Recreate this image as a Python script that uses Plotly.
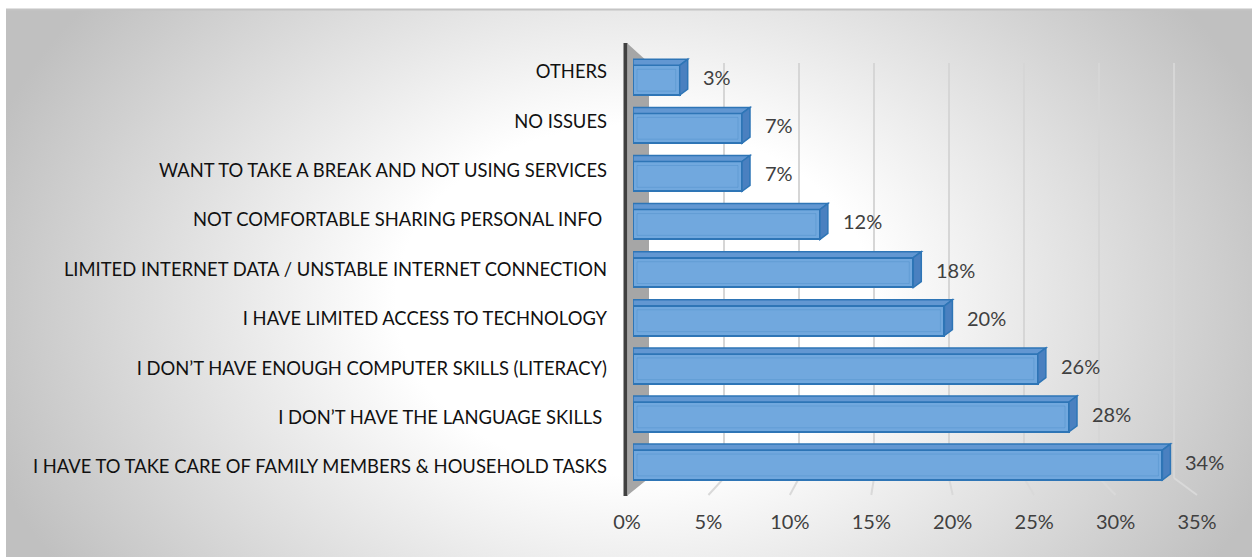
import base64
import plotly.graph_objects as go

# ---- data -----------------------------------------------------------------
categories = [
    "I HAVE TO TAKE CARE OF FAMILY MEMBERS & HOUSEHOLD TASKS",
    "I DON’T HAVE THE LANGUAGE SKILLS ",
    "I DON’T HAVE ENOUGH COMPUTER SKILLS (LITERACY)",
    "I HAVE LIMITED ACCESS TO TECHNOLOGY",
    "LIMITED INTERNET DATA / UNSTABLE INTERNET CONNECTION",
    "NOT COMFORTABLE SHARING PERSONAL INFO ",
    "WANT TO TAKE A BREAK AND NOT USING SERVICES",
    "NO ISSUES",
    "OTHERS",
]
values = [34, 28, 26, 20, 18, 12, 7, 7, 3]
x_ticks = [0, 5, 10, 15, 20, 25, 30, 35]
x_tick_labels = ["0%", "5%", "10%", "15%", "20%", "25%", "30%", "35%"]

# ---- canvas / layout geometry (pixels) ------------------------------------
W, H = 1252, 557
FONT = "Lato"
TXT = "#404040"

def px_x(p):
    return p / W

def px_y(p):
    return 1 - p / H

idx = list(range(len(categories)))

# bar (front face) axis: 0..35 -> 633..1178 px, category i centred at 465 - 48.1 i
bar_x_dom = [px_x(633), px_x(1178)]
bar_y_dom = [px_y(465 + 48.1), px_y(465 - 9 * 48.1)]
# category label axis
lab_y_dom = [px_y(467 + 49.4), px_y(467 - 9 * 49.4)]
# front floor edge (tick labels): 0..35 -> 627..1197 px
FRONT0, FRONT1 = 627, 1197
front_x_dom = [px_x(FRONT0), px_x(FRONT1)]
# back wall: 0..35 -> 649..1174 px, from y=63 to y=478
BACK0, BACK1 = 649, 1174
BACK_TOP, BACK_BOTTOM = 63, 478
FLOOR_FRONT = 495

bar_w = 0.62
px_per_unit_x = (1178 - 633) / 35
px_per_unit_y = 48.1
dx = 8 / px_per_unit_x
dy = 6 / px_per_unit_y

# ---- background gradient --------------------------------------------------
bw, bh = W - 6, H - 9
svg = f'''<svg xmlns="http://www.w3.org/2000/svg" width="{bw}" height="{bh}" viewBox="0 0 {bw} {bh}" preserveAspectRatio="none">
<defs><radialGradient id="g" gradientUnits="userSpaceOnUse" cx="628" cy="291" r="680"
gradientTransform="translate(628 291) scale(1 0.735) translate(-628 -291)">
<stop offset="0" stop-color="#ffffff"/><stop offset="0.35" stop-color="#ffffff"/>
<stop offset="1" stop-color="#c0c0c0"/></radialGradient></defs>
<rect x="0" y="0" width="{bw}" height="{bh}" fill="url(#g)"/></svg>'''
bg_src = "data:image/svg+xml;base64," + base64.b64encode(svg.encode()).decode()

fig = go.Figure()

# front faces of the bars
fig.add_trace(go.Bar(
    y=idx, x=values, orientation="h", width=bar_w,
    marker=dict(color="#71a8de", line=dict(color="#2e75b6", width=2)),
    xaxis="x", yaxis="y", hoverinfo="skip", showlegend=False,
))
# helper traces so the label axes are drawn
fig.add_trace(go.Scatter(x=[None], y=[None], xaxis="x2", yaxis="y", showlegend=False, hoverinfo="skip"))
fig.add_trace(go.Scatter(x=[None], y=[None], xaxis="x", yaxis="y2", showlegend=False, hoverinfo="skip"))

shapes = []

# back-wall gridlines and floor gridlines (drawn under everything)
for v in x_ticks[1:]:
    xb = BACK0 + v * (BACK1 - BACK0) / 35
    xf = FRONT0 + v * (FRONT1 - FRONT0) / 35
    shapes.append(dict(
        type="line", xref="paper", yref="paper", layer="below",
        x0=px_x(xb), y0=px_y(BACK_TOP), x1=px_x(xb), y1=px_y(BACK_BOTTOM),
        line=dict(color="#d6d6d6", width=2),
    ))
    shapes.append(dict(
        type="line", xref="paper", yref="paper", layer="below",
        x0=px_x(xb), y0=px_y(BACK_BOTTOM), x1=px_x(xf), y1=px_y(FLOOR_FRONT),
        line=dict(color="#d9d9d9", width=2),
    ))

# side wall on the left
shapes.append(dict(
    type="path", xref="paper", yref="paper", layer="below",
    path=(f"M {px_x(628)},{px_y(44)} L {px_x(BACK0)},{px_y(BACK_TOP)} "
          f"L {px_x(BACK0)},{px_y(BACK_BOTTOM)} L {px_x(628)},{px_y(FLOOR_FRONT)} Z"),
    fillcolor="#a6a6a6", line=dict(width=0),
))
shapes.append(dict(
    type="line", xref="paper", yref="paper", layer="below",
    x0=px_x(625.5), x1=px_x(625.5), y0=px_y(43), y1=px_y(496),
    line=dict(color="#404040", width=4),
))
# chart frame edge
shapes.append(dict(
    type="line", xref="paper", yref="paper", layer="below",
    x0=px_x(6), x1=1, y0=px_y(9.5), y1=px_y(9.5),
    line=dict(color="#c4c4c4", width=2),
))

# top and side faces plus inner bevel of each bar
for i, v in zip(idx, values):
    t = i + bar_w / 2
    b = i - bar_w / 2
    shapes.append(dict(
        type="path", xref="x", yref="y", layer="above",
        path=f"M 0,{t} L {v},{t} L {v + dx},{t + dy} L 0,{t + dy} Z",
        fillcolor="#6297d2", line=dict(color="#2e75b6", width=1.5),
    ))
    shapes.append(dict(
        type="path", xref="x", yref="y", layer="above",
        path=f"M {v},{t} L {v + dx},{t + dy} L {v + dx},{b + dy} L {v},{b} Z",
        fillcolor="#4a80c0", line=dict(color="#2e75b6", width=1.5),
    ))
    ix = 4 / px_per_unit_x
    iy = 4 / px_per_unit_y
    shapes.append(dict(
        type="rect", xref="x", yref="y", layer="above",
        x0=ix, x1=v - ix, y0=b + iy, y1=t - iy,
        line=dict(color="rgba(46,117,182,0.22)", width=1),
    ))

annotations = [
    dict(x=v, y=i, xref="x", yref="y", text=f"{v}%", showarrow=False,
         xanchor="left", yanchor="middle", xshift=21, yshift=3,
         font=dict(family=FONT, size=20, color=TXT))
    for i, v in zip(idx, values)
]

fig.update_layout(
    template="none",
    width=W, height=H, autosize=False,
    margin=dict(l=0, r=0, t=0, b=0, pad=0, autoexpand=False),
    paper_bgcolor="white", plot_bgcolor="rgba(0,0,0,0)",
    shapes=shapes, annotations=annotations,
    images=[dict(source=bg_src, xref="paper", yref="paper",
                 x=px_x(6), y=px_y(9), sizex=px_x(W - 6), sizey=(H - 9) / H,
                 xanchor="left", yanchor="top", sizing="stretch", layer="below")],
    bargap=0,
    xaxis=dict(domain=bar_x_dom, range=[0, 35], anchor="y", visible=False,
               automargin=False),
    yaxis=dict(domain=bar_y_dom, range=[-1, 9], anchor="x", visible=False,
               automargin=False),
    xaxis2=dict(domain=front_x_dom, range=[0, 35], anchor="free",
                position=px_y(508), tickvals=x_ticks, ticktext=x_tick_labels,
                showgrid=False, zeroline=False, showline=False, ticks="",
                automargin=False,
                tickfont=dict(family=FONT, size=20, color=TXT)),
    yaxis2=dict(domain=lab_y_dom, range=[-1, 9], anchor="free",
                position=px_x(607), tickvals=idx, ticktext=categories,
                showgrid=False, zeroline=False, showline=False, ticks="",
                automargin=False,
                tickfont=dict(family=FONT, size=18.4, color="#111111")),
)

fig.write_html("out.html")
